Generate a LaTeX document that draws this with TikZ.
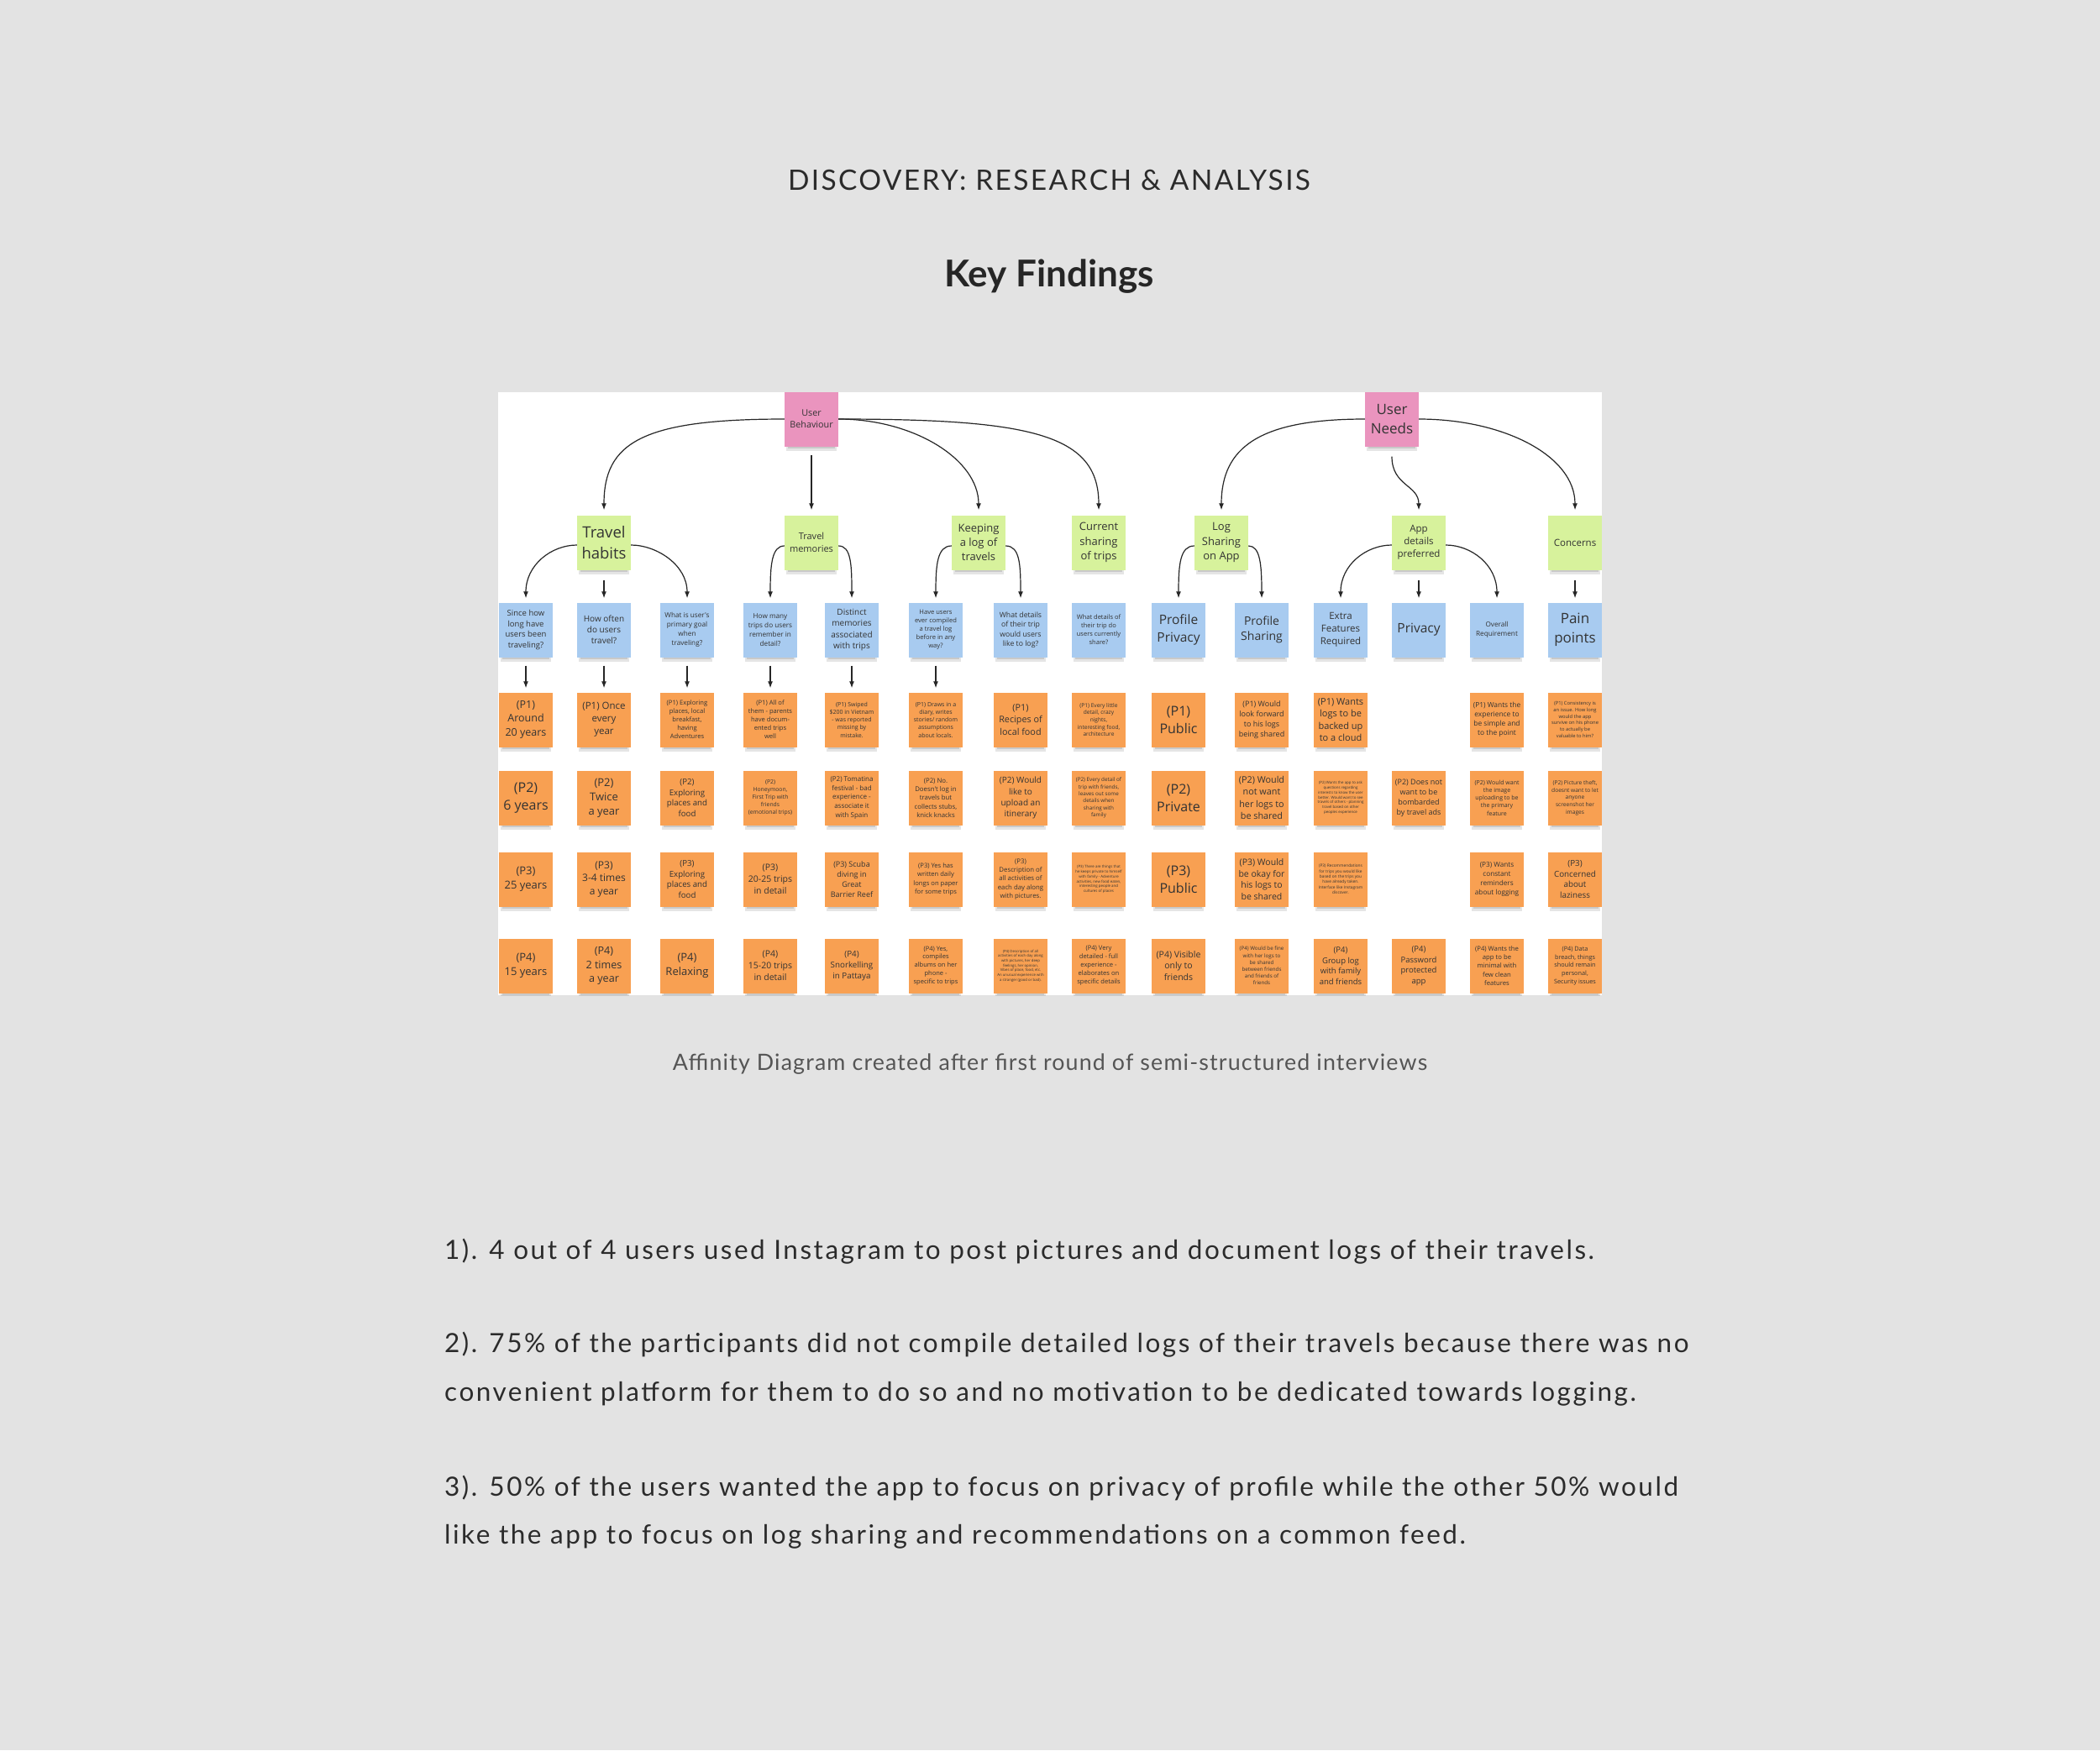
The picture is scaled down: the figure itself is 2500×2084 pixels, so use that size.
\documentclass[tikz,border=0pt]{standalone}
\usepackage{fontspec}
\setmainfont{Lato}
\newfontfamily\notefont{Open Sans}
\newfontfamily\titlefont[LetterSpace=7]{Lato}
\newfontfamily\bodyfont[LetterSpace=8]{Lato}
\newfontfamily\capfont[LetterSpace=4.3]{Lato}
\usetikzlibrary{arrows.meta}
\definecolor{bg}{HTML}{E3E3E3}
\definecolor{pinknote}{HTML}{EA94BE}
\definecolor{greennote}{HTML}{D7F29C}
\definecolor{bluenote}{HTML}{A8CBF0}
\definecolor{orangenote}{HTML}{F8A052}
\definecolor{notetext}{HTML}{333333}
\definecolor{headtext}{HTML}{2B2B2B}
\definecolor{captext}{HTML}{555555}
\newcommand\fsz[1]{\pgfmathsetlengthmacro\myleading{1.32*#1bp}\fontsize{#1bp}{\myleading}\selectfont}
\tikzset{
  note/.style={minimum width=64bp, minimum height=65bp, inner sep=1bp, align=center, text=notetext},
  pinkn/.style={note, fill=pinknote},
  greenn/.style={note, fill=greennote},
  bluen/.style={note, fill=bluenote},
  orangen/.style={note, fill=orangenote},
  fs/.style={font=\notefont\fsz{#1}},
  conn/.style={draw=black!85, line width=1.2bp, -{Latex[length=8bp,width=6bp]}},
  bodyline/.style={anchor=base west, inner sep=0pt, text=headtext, font=\bodyfont\fontsize{31.5bp}{36bp}\selectfont},
}
% name, x, y, colour style, font size, text
\newcommand\sticky[6]{%
  \fill[black,opacity=0.10] (#2-30,#3+28) rectangle (#2+30,#3+38);
  \fill[black,opacity=0.12] (#2-28,#3+28) rectangle (#2+28,#3+35);
  \node[#4, fs=#5] (#1) at (#2,#3) {#6};
}
\begin{document}
\begin{tikzpicture}[x=1bp, y=-1bp]
\fill[bg] (0,0) rectangle (2500,2084);
\useasboundingbox (0,0) rectangle (2500,2084);

\node[anchor=base, inner sep=0pt, text=headtext, font=\titlefont\fontsize{33.5bp}{38bp}\selectfont] (title) at (1249,226) {DISCOVERY: RESEARCH \& ANALYSIS};
\node[anchor=base, inner sep=0pt, text=black!85, font=\fontsize{44bp}{50bp}\selectfont\bfseries] (key) at (1249,341) {Key Findings};

\fill[white] (593,467) rectangle (1907,1185);
\begin{scope}
\clip (593,467) rectangle (1907,1185);
% top level
\sticky{ub}{966}{499}{pinkn}{10.8}{User\\Behaviour}
\sticky{un}{1657}{499}{pinkn}{17}{User\\Needs}
% categories
\sticky{g1}{719}{646}{greenn}{18.5}{Travel\\habits}
\sticky{g2}{966}{646}{greenn}{11}{Travel\\memories}
\sticky{g3}{1165}{646}{greenn}{13}{Keeping\\a log of\\travels}
\sticky{g4}{1308}{646}{greenn}{13}{Current\\sharing\\of trips}
\sticky{g5}{1454}{646}{greenn}{13}{Log\\Sharing\\on App}
\sticky{g6}{1689}{646}{greenn}{11.5}{App\\details\\preferred}
\sticky{g7}{1875}{646}{greenn}{11.5}{Concerns}
% questions
\sticky{b1}{626}{750}{bluen}{9.5}{Since how\\long have\\users been\\traveling?}
\sticky{b2}{719}{750}{bluen}{10}{How often\\do users\\travel?}
\sticky{b3}{818}{750}{bluen}{8.2}{What is user's\\primary goal\\when\\traveling?}
\sticky{b4}{917}{750}{bluen}{8.2}{How many\\trips do users\\remember in\\detail?}
\sticky{b5}{1014}{750}{bluen}{10}{Distinct\\memories\\associated\\with trips}
\sticky{b6}{1114}{750}{bluen}{7.6}{Have users\\ever compiled\\a travel log\\before in any\\way?}
\sticky{b7}{1215}{750}{bluen}{8.7}{What details\\of their trip\\would users\\like to log?}
\sticky{b8}{1308}{750}{bluen}{7.5}{What details of\\their trip do\\users currently\\share?}
\sticky{b9}{1403}{750}{bluen}{15.5}{Profile\\Privacy}
\sticky{b10}{1502}{750}{bluen}{14}{Profile\\Sharing}
\sticky{b11}{1596}{750}{bluen}{11.5}{Extra\\Features\\Required}
\sticky{b12}{1689}{750}{bluen}{15.5}{Privacy}
\sticky{b13}{1782}{750}{bluen}{8.2}{Overall\\Requirement}
\sticky{b14}{1875}{750}{bluen}{17}{Pain\\points}
% P1
\sticky{a1}{626}{857}{orangen}{12.5}{(P1)\\Around\\20 years}
\sticky{a2}{719}{857}{orangen}{11.5}{(P1) Once\\every\\year}
\sticky{a3}{818}{857}{orangen}{7.6}{(P1) Exploring\\places, local\\breakfast,\\having\\Adventures}
\sticky{a4}{917}{857}{orangen}{7.6}{(P1) All of\\them - parents\\have docum-\\ented trips\\well}
\sticky{a5}{1014}{857}{orangen}{7}{(P1) Swiped\\\$200 in Vietnam\\- was reported\\missing by\\mistake.}
\sticky{a6}{1114}{857}{orangen}{7}{(P1) Draws in a\\diary, writes\\stories/ random\\assumptions\\about locals.}
\sticky{a7}{1215}{857}{orangen}{10.8}{(P1)\\Recipes of\\local food}
\sticky{a8}{1308}{857}{orangen}{6.6}{(P1) Every little\\detail, crazy\\nights,\\interesting food,\\architecture}
\sticky{a9}{1403}{857}{orangen}{16}{(P1)\\Public}
\sticky{a10}{1502}{857}{orangen}{9}{(P1) Would\\look forward\\to his logs\\being shared}
\sticky{a11}{1596}{857}{orangen}{11}{(P1) Wants\\logs to be\\backed up\\to a cloud}
\sticky{a13}{1782}{857}{orangen}{8.4}{(P1) Wants the\\experience to\\be simple and\\to the point}
\sticky{a14}{1875}{857}{orangen}{5.8}{(P1) Consistency is\\an issue. How long\\would the app\\survive on his phone\\to actually be\\valuable to him?}
% P2
\sticky{c1}{626}{950}{orangen}{16}{(P2)\\6 years}
\sticky{c2}{719}{950}{orangen}{13}{(P2)\\Twice\\a year}
\sticky{c3}{818}{950}{orangen}{9.7}{(P2)\\Exploring\\places and\\food}
\sticky{c4}{917}{950}{orangen}{6.8}{(P2)\\Honeymoon,\\First Trip with\\friends\\(emotional trips)}
\sticky{c5}{1014}{950}{orangen}{8}{(P2) Tomatina\\festival - bad\\experience -\\associate it\\with Spain}
\sticky{c6}{1114}{950}{orangen}{7.8}{(P2) No.\\Doesn't log in\\travels but\\collects stubs,\\knick knacks}
\sticky{c7}{1215}{950}{orangen}{10}{(P2) Would\\like to\\upload an\\itinerary}
\sticky{c8}{1308}{950}{orangen}{6.3}{(P2) Every detail of\\trip with friends,\\leaves out some\\details when\\sharing with\\family}
\sticky{c9}{1403}{950}{orangen}{16}{(P2)\\Private}
\sticky{c10}{1502}{950}{orangen}{10.8}{(P2) Would\\not want\\her logs to\\be shared}
\sticky{c11}{1596}{950}{orangen}{4.4}{(P2) Wants the app to ask\\questions regarding\\interests to know the user\\better. Would want to see\\travels of others - planning\\travel based on other\\peoples experience}
\sticky{c12}{1689}{950}{orangen}{9}{(P2) Does not\\want to be\\bombarded\\by travel ads}
\sticky{c13}{1782}{950}{orangen}{7}{(P2) Would want\\the image\\uploading to be\\the primary\\feature}
\sticky{c14}{1875}{950}{orangen}{6.6}{(P2) Picture theft,\\doesnt want to let\\anyone\\screenshot her\\images}
% P3
\sticky{d1}{626}{1047}{orangen}{13}{(P3)\\25 years}
\sticky{d2}{719}{1047}{orangen}{12}{(P3)\\3-4 times\\a year}
\sticky{d3}{818}{1047}{orangen}{9.7}{(P3)\\Exploring\\places and\\food}
\sticky{d4}{917}{1047}{orangen}{10.5}{(P3)\\20-25 trips\\in detail}
\sticky{d5}{1014}{1047}{orangen}{9}{(P3) Scuba\\diving in\\Great\\Barrier Reef}
\sticky{d6}{1114}{1047}{orangen}{7.6}{(P3) Yes has\\written daily\\longs on paper\\for some trips}
\sticky{d7}{1215}{1047}{orangen}{7.8}{(P3)\\Description of\\all activities of\\each day along\\with pictures.}
\sticky{d8}{1308}{1047}{orangen}{4.4}{(P3) There are things that\\he keeps private to himself\\with family - Adventure\\activities, new food eaten,\\interesting people and\\cultures of places}
\sticky{d9}{1403}{1047}{orangen}{16}{(P3)\\Public}
\sticky{d10}{1502}{1047}{orangen}{10.5}{(P3) Would\\be okay for\\his logs to\\be shared}
\sticky{d11}{1596}{1047}{orangen}{4.8}{(P3) Recommendations\\for trips you would like\\based on the trips you\\have already taken.\\Interface like Instagram\\discover.}
\sticky{d13}{1782}{1047}{orangen}{8.2}{(P3) Wants\\constant\\reminders\\about logging}
\sticky{d14}{1875}{1047}{orangen}{9.8}{(P3)\\Concerned\\about\\laziness}
% P4
\sticky{e1}{626}{1150}{orangen}{13}{(P4)\\15 years}
\sticky{e2}{719}{1150}{orangen}{12.6}{(P4)\\2 times\\a year}
\sticky{e3}{818}{1150}{orangen}{13}{(P4)\\Relaxing}
\sticky{e4}{917}{1150}{orangen}{10.5}{(P4)\\15-20 trips\\in detail}
\sticky{e5}{1014}{1150}{orangen}{9.8}{(P4)\\Snorkelling\\in Pattaya}
\sticky{e6}{1114}{1150}{orangen}{7.5}{(P4) Yes,\\compiles\\albums on her\\phone -\\specific to trips}
\sticky{e7}{1215}{1150}{orangen}{4.3}{(P4) Description of all\\activities of each day along\\with pictures, her deep\\feelings, her opinion,\\Vibes of place, food, etc.\\An unusual experience with\\a stranger (good or bad).}
\sticky{e8}{1308}{1150}{orangen}{7.6}{(P4) Very\\detailed - full\\experience -\\elaborates on\\specific details}
\sticky{e9}{1403}{1150}{orangen}{10.5}{(P4) Visible\\only to\\friends}
\sticky{e10}{1502}{1150}{orangen}{6.2}{(P4) Would be fine\\with her logs to\\be shared\\between friends\\and friends of\\friends}
\sticky{e11}{1596}{1150}{orangen}{9.5}{(P4)\\Group log\\with family\\and friends}
\sticky{e12}{1689}{1150}{orangen}{9.5}{(P4)\\Password\\protected\\app}
\sticky{e13}{1782}{1150}{orangen}{7.7}{(P4) Wants the\\app to be\\minimal with\\few clean\\features}
\sticky{e14}{1875}{1150}{orangen}{7.3}{(P4) Data\\breach, things\\should remain\\personal,\\Security issues}

% connectors from User Behaviour
\draw[conn] (ub.west) .. controls +(-170,0) and +(0,-80) .. ([yshift=6bp]g1.north);
\draw[conn] ([yshift=-10bp]ub.south) -- ([yshift=6bp]g2.north);
\draw[conn] (ub.east) .. controls +(90,0) and +(0,-60) .. ([yshift=6bp]g3.north);
\draw[conn] (ub.east) .. controls +(230,0) and +(0,-90) .. ([yshift=6bp]g4.north);
% connectors from User Needs
\draw[conn] (un.west) .. controls +(-125,0) and +(0,-75) .. ([yshift=6bp]g5.north);
\draw[conn] ([yshift=-12bp]un.south) .. controls +(0,35) and +(0,-30) .. ([yshift=6bp]g6.north);
\draw[conn] (un.east) .. controls +(100,0) and +(0,-65) .. ([yshift=6bp]g7.north);
% category to questions
\draw[conn] ([yshift=-3bp]g1.west) .. controls +(-30,0) and +(0,-40) .. ([yshift=5bp]b1.north);
\draw[conn] ([yshift=-12bp]g1.south) -- ([yshift=5bp]b2.north);
\draw[conn] ([yshift=-3bp]g1.east) .. controls +(30,0) and +(0,-40) .. ([yshift=5bp]b3.north);
\draw[conn] ([yshift=-4bp]g2.west) .. controls +(-15,0) and +(0,-40) .. ([yshift=5bp]b4.north);
\draw[conn] ([yshift=-4bp]g2.east) .. controls +(15,0) and +(0,-40) .. ([yshift=5bp]b5.north);
\draw[conn] ([yshift=-4bp]g3.west) .. controls +(-17,0) and +(0,-40) .. ([yshift=5bp]b6.north);
\draw[conn] ([yshift=-4bp]g3.east) .. controls +(17,0) and +(0,-40) .. ([yshift=5bp]b7.north);
\draw[conn] ([yshift=-4bp]g5.west) .. controls +(-17,0) and +(0,-40) .. ([yshift=5bp]b9.north);
\draw[conn] ([yshift=-4bp]g5.east) .. controls +(14,0) and +(0,-40) .. ([yshift=5bp]b10.north);
\draw[conn] ([yshift=-3bp]g6.west) .. controls +(-30,0) and +(0,-40) .. ([yshift=5bp]b11.north);
\draw[conn] ([yshift=-12bp]g6.south) -- ([yshift=5bp]b12.north);
\draw[conn] ([yshift=-3bp]g6.east) .. controls +(30,0) and +(0,-40) .. ([yshift=5bp]b13.north);
\draw[conn] ([yshift=-12bp]g7.south) -- ([yshift=5bp]b14.north);
% questions to first answers
\foreach \q/\a in {b1/a1,b2/a2,b3/a3,b4/a4,b5/a5,b6/a6}
  \draw[conn] ([yshift=-10bp]\q.south) -- ([yshift=5bp]\a.north);
\end{scope}

\node[anchor=base, inner sep=0pt, text=captext, font=\capfont\fontsize{26.8bp}{32bp}\selectfont] (caption) at (1250,1274) {Affinity Diagram created after first round of semi-structured interviews};

\node[bodyline] (f1) at (529,1499) {1). 4 out of 4 users used Instagram to post pictures and document logs of their travels.};
\node[bodyline] (f2a) at (529,1610) {2). 75\% of the participants did not compile detailed logs of their travels because there was no};
\node[bodyline] (f2b) at (529,1668) {convenient platform for them to do so and no motivation to be dedicated towards logging.};
\node[bodyline] (f3a) at (529,1781) {3). 50\% of the users wanted the app to focus on privacy of profile while the other 50\% would};
\node[bodyline] (f3b) at (529,1838) {like the app to focus on log sharing and recommendations on a common feed.};
\end{tikzpicture}
\end{document}
